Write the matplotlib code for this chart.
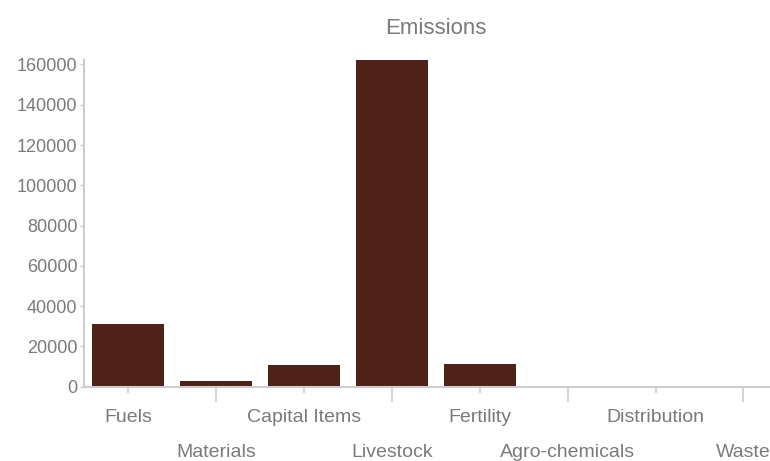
import matplotlib
matplotlib.use("Agg")
import matplotlib.pyplot as plt
import numpy as np

categories = ["Fuels", "Materials", "Capital Items", "Livestock", "Fertility",
              "Agro-chemicals", "Distribution", "Waste"]
emissions = [31400, 3000, 10750, 162000, 11250, 0, 0, 0]
yticks = [0, 20000, 40000, 60000, 80000, 100000, 120000, 140000, 160000]

plt.rcParams['font.family'] = ['Liberation Sans', 'DejaVu Sans']

fig = plt.figure(figsize=(7.7, 4.61), dpi=100)
ax = fig.add_axes([0.1095, 0.161, 0.913, 0.708])

x = np.arange(len(categories))
ax.bar(x, emissions, width=0.815, color="#4E2219", edgecolor="none")

ax.set_xlim(-0.5, len(categories) - 0.5)
ax.set_ylim(0, max(emissions))
ax.set_yticks(yticks)
ax.set_yticklabels([str(v) for v in yticks])

grey = "#cccccc"
txt = "#7a7a7a"
for s in ["top", "right"]:
    ax.spines[s].set_visible(False)
for s in ["left", "bottom"]:
    ax.spines[s].set_color(grey)
    ax.spines[s].set_linewidth(1.5)

ax.tick_params(axis="y", length=3, width=1, color=grey, labelcolor=txt,
               labelsize=13, pad=2)

major = x[0::2]
minor = x[1::2]
ax.set_xticks(major)
ax.set_xticklabels(categories[0::2])
ax.set_xticks(minor, minor=True)
ax.set_xticklabels(categories[1::2], minor=True)
ax.tick_params(axis="x", which="major", length=4.5, width=1.2, color=grey,
               labelcolor=txt, labelsize=14, pad=11.5)
ax.tick_params(axis="x", which="minor", length=11, width=1.2, color=grey,
               labelcolor=txt, labelsize=14, pad=30.5)

ax.set_title("Emissions", color=txt, fontsize=16, pad=19)

fig.savefig("out.png", dpi=100)
